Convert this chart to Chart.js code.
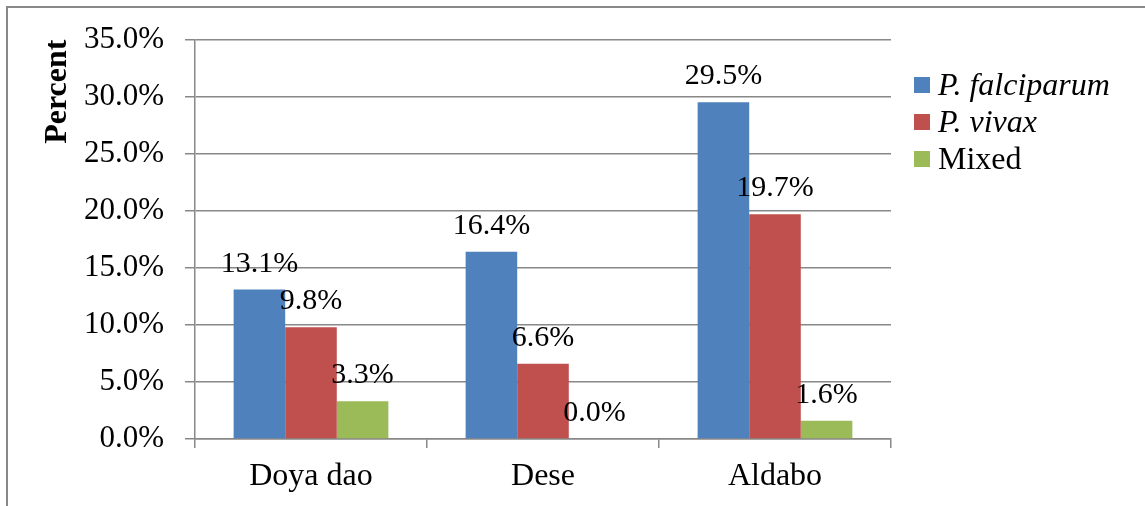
<!DOCTYPE html>
<html>
<head>
<meta charset="utf-8">
<script src="https://cdn.jsdelivr.net/npm/chart.js@4.4.0/dist/chart.umd.min.js"></script>
<style>
  html, body { margin: 0; padding: 0; background: #fff; }
  #wrap { position: relative; width: 1145px; height: 506px; overflow: hidden; }
  #frame { position: absolute; left: 6px; top: 6px; width: 1200px; height: 600px;
           border-left: 2px solid #888; border-top: 2px solid #888; }
  canvas { position: absolute; left: 0; top: 0; }
  #legend { position: absolute; left: 914px; top: 66px; font-family: "Liberation Serif", "Times New Roman", serif;
            font-size: 32px; color: #000; }
  .lg-row { display: flex; align-items: center; height: 37px; }
  .lg-box { width: 16px; height: 16px; margin-right: 8px; }
  .lg-row.sp span { font-style: italic; }
</style>
</head>
<body>
<div id="wrap">
  <div id="frame"></div>
  <canvas id="chart" width="1145" height="506"></canvas>
  <div id="legend"></div>
</div>
<script>
// ---- data ----
const sites = ['Doya dao', 'Dese', 'Aldabo'];
const falciparum = [13.1, 16.4, 29.5];
const vivax = [9.8, 6.6, 19.7];
const mixed = [3.3, 0.0, 1.6];
const seriesNames = ['P. falciparum', 'P. vivax', 'Mixed'];
const yTicks = [0, 5, 10, 15, 20, 25, 30, 35];

const colors = ['#4F81BD', '#C0504D', '#9BBB59'];
const italicNames = ['P. falciparum', 'P. vivax']; // species names in italics
const FONT = '"Liberation Serif", "Times New Roman", serif';

function fmtPct(v) {
  return Number(v).toFixed(1) + '%';
}

// value labels above each bar
const barLabels = {
  id: 'barLabels',
  afterDatasetsDraw(chart) {
    const ctx = chart.ctx;
    ctx.save();
    ctx.font = '30px ' + FONT;
    ctx.fillStyle = '#000';
    ctx.textAlign = 'center';
    ctx.textBaseline = 'alphabetic';
    chart.data.datasets.forEach((ds, i) => {
      chart.getDatasetMeta(i).data.forEach((bar, j) => {
        ctx.fillText(fmtPct(ds.data[j]), bar.x, bar.y - 18);
      });
    });
    ctx.restore();
  }
};

const chart = new Chart(document.getElementById('chart'), {
  type: 'bar',
  data: {
    labels: sites,
    datasets: [falciparum, vivax, mixed].map((d, i) => ({
      label: seriesNames[i],
      data: d,
      backgroundColor: colors[i],
      borderWidth: 0,
      categoryPercentage: 0.667,
      barPercentage: 1.0,
    }))
  },
  options: {
    responsive: false,
    animation: false,
    layout: { padding: { left: 8, right: 254, top: 38, bottom: 0 } },
    plugins: { legend: { display: false }, tooltip: { enabled: false } },
    scales: {
      x: {
        afterFit(scale) { scale.height = 67; },
        grid: { drawOnChartArea: false, drawTicks: true, tickLength: 9, color: '#888', lineWidth: 1.5 },
        border: { color: '#888', width: 1.5 },
        ticks: { color: '#000', font: { family: FONT, size: 32 }, padding: 9 }
      },
      y: {
        min: 0,
        max: 35,
        afterFit(scale) { scale.width = 187; },
        afterBuildTicks(scale) { scale.ticks = yTicks.map(v => ({ value: v })); },
        grid: { color: '#888', lineWidth: 1.5, tickLength: 10 },
        border: { color: '#888', width: 1.5 },
        ticks: { color: '#000', font: { family: FONT, size: 31 }, padding: 21, callback: v => fmtPct(v) },
        title: { display: true, text: 'Percent', align: 'end', color: '#000',
                 font: { family: FONT, size: 32, weight: 'bold' }, padding: { top: 31, bottom: 0 } }
      }
    }
  },
  plugins: [barLabels]
});

// legend
const legendEl = document.getElementById('legend');
legendEl.innerHTML = chart.data.datasets.map(ds => `
  <div class="lg-row ${italicNames.includes(ds.label) ? 'sp' : ''}">
    <div class="lg-box" style="background:${ds.backgroundColor}"></div><span>${ds.label}</span>
  </div>`).join('');
</script>
</body>
</html>
